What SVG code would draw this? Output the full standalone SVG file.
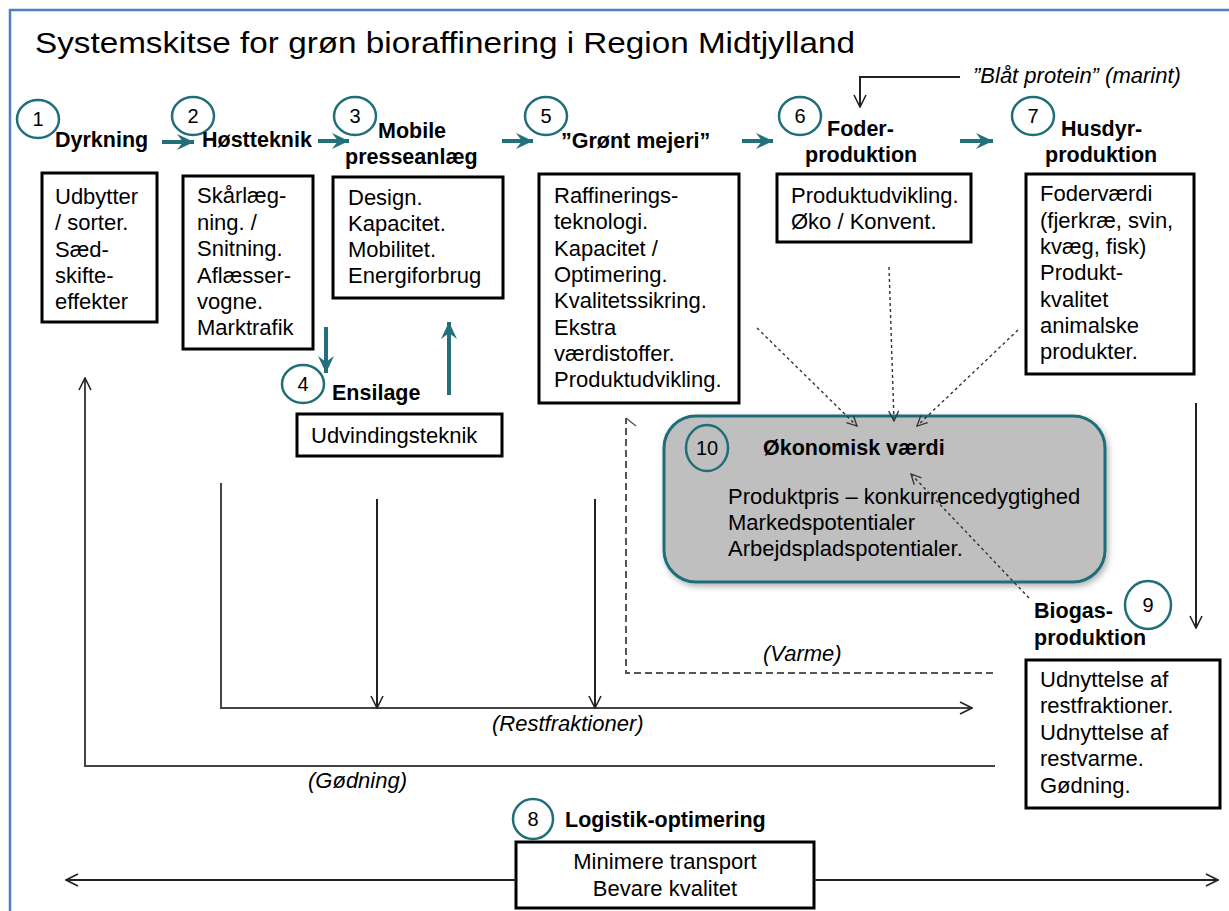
<svg xmlns="http://www.w3.org/2000/svg" width="1229" height="911" viewBox="0 0 1229 911">
<style>
text{font-family:"Liberation Sans",Arial,sans-serif;fill:#000}
.t{font-size:29px}
.h{font-size:21.5px;font-weight:bold}
.b{font-size:22px}
.i{font-size:22px;font-style:italic}
.n{font-size:20px;text-anchor:middle}
.box{fill:#fff;stroke:#000;stroke-width:3}
.circ{fill:#fff;stroke:#1f6e78;stroke-width:2.5}
.ta{stroke:#21707a;stroke-width:4;fill:none;marker-end:url(#tah)}
.bla{stroke:#222;stroke-width:2;fill:none;marker-end:url(#va)}
.gl{stroke:#444;stroke-width:2;fill:none}
.dash{stroke:#555;stroke-width:2;fill:none;stroke-dasharray:7 4}
.dot{stroke:#333;stroke-width:1.4;fill:none;stroke-dasharray:3 3;marker-end:url(#vs)}
</style>
<defs>
<marker id="tah" viewBox="0 0 18 18" refX="17" refY="9" markerWidth="18" markerHeight="18" orient="auto" markerUnits="userSpaceOnUse"><path d="M0,1 L17,9 L0,17 L6,9z" fill="#21707a"/></marker>
<marker id="va" viewBox="0 0 14 14" refX="13" refY="7" markerWidth="14" markerHeight="14" orient="auto" markerUnits="userSpaceOnUse"><path d="M1,1 L13,7 L1,13" fill="none" stroke="#222" stroke-width="1.6"/></marker>
<marker id="vs" viewBox="0 0 12 12" refX="11" refY="6" markerWidth="12" markerHeight="12" orient="auto" markerUnits="userSpaceOnUse"><path d="M1,1 L11,6 L1,11" fill="none" stroke="#333" stroke-width="1.3"/></marker>
<filter id="sh" x="-10%" y="-10%" width="130%" height="130%"><feDropShadow dx="2" dy="3" stdDeviation="3" flood-color="#000" flood-opacity="0.3"/></filter>
</defs>
<rect width="1229" height="911" fill="#fff"/>
<path d="M10,911 L10,10 L1235,10" fill="none" stroke="#4f81bd" stroke-width="2.5"/>
<text class="t" x="35" y="53" textLength="820" lengthAdjust="spacingAndGlyphs">Systemskitse for grøn bioraffinering i Region Midtjylland</text>

<g id="n1">
<ellipse class="circ" cx="38" cy="119" rx="21" ry="19"/><text class="n" x="38" y="126">1</text>
<text class="h" x="55" y="147">Dyrkning</text>
<rect class="box" x="42" y="173" width="115" height="149"/>
<text class="b"><tspan x="55" y="204">Udbytter</tspan><tspan x="55" y="230">/ sorter.</tspan><tspan x="55" y="257">Sæd-</tspan><tspan x="55" y="283">skifte-</tspan><tspan x="55" y="309">effekter</tspan></text>
</g>
<g id="n2">
<ellipse class="circ" cx="193" cy="116" rx="21" ry="19"/><text class="n" x="193" y="123">2</text>
<text class="h" x="202" y="147">Høstteknik</text>
<rect class="box" x="183" y="176" width="130" height="173"/>
<text class="b"><tspan x="197" y="203">Skårlæg-</tspan><tspan x="197" y="230">ning. /</tspan><tspan x="197" y="256">Snitning.</tspan><tspan x="197" y="283">Aflæsser-</tspan><tspan x="197" y="309">vogne.</tspan><tspan x="197" y="335">Marktrafik</tspan></text>
</g>
<g id="n3">
<ellipse class="circ" cx="355" cy="116" rx="21" ry="19"/><text class="n" x="355" y="123">3</text>
<text class="h" x="378" y="138">Mobile</text>
<text class="h" x="345" y="164">presseanlæg</text>
<rect class="box" x="333" y="177" width="170" height="121"/>
<text class="b"><tspan x="348" y="205">Design.</tspan><tspan x="348" y="231">Kapacitet.</tspan><tspan x="348" y="257">Mobilitet.</tspan><tspan x="348" y="283">Energiforbrug</tspan></text>
</g>
<g id="n4">
<ellipse class="circ" cx="303" cy="384" rx="21" ry="19"/><text class="n" x="303" y="391">4</text>
<text class="h" x="332" y="400">Ensilage</text>
<rect class="box" x="297" y="414" width="205" height="42"/>
<text class="b" x="311" y="443">Udvindingsteknik</text>
</g>
<g id="n5">
<ellipse class="circ" cx="546" cy="116" rx="21" ry="19"/><text class="n" x="546" y="123">5</text>
<text class="h" x="561" y="148">”Grønt mejeri”</text>
<rect class="box" x="539" y="174" width="200" height="229"/>
<text class="b"><tspan x="554" y="203">Raffinerings-</tspan><tspan x="554" y="229">teknologi.</tspan><tspan x="554" y="256">Kapacitet /</tspan><tspan x="554" y="282">Optimering.</tspan><tspan x="554" y="308">Kvalitetssikring.</tspan><tspan x="554" y="335">Ekstra</tspan><tspan x="554" y="361">værdistoffer.</tspan><tspan x="554" y="387">Produktudvikling.</tspan></text>
</g>
<g id="n6">
<ellipse class="circ" cx="800" cy="116" rx="21" ry="19"/><text class="n" x="800" y="123">6</text>
<text class="h" x="827" y="136">Foder-</text>
<text class="h" x="805" y="162">produktion</text>
<rect class="box" x="777" y="174" width="194" height="68"/>
<text class="b"><tspan x="791" y="203">Produktudvikling.</tspan><tspan x="791" y="229">Øko / Konvent.</tspan></text>
</g>
<g id="n7">
<ellipse class="circ" cx="1033" cy="116" rx="21" ry="19"/><text class="n" x="1033" y="123">7</text>
<text class="h" x="1061" y="136">Husdyr-</text>
<text class="h" x="1045" y="162">produktion</text>
<rect class="box" x="1026" y="174" width="168" height="200"/>
<text class="b"><tspan x="1040" y="201">Foderværdi</tspan><tspan x="1040" y="228">(fjerkræ, svin,</tspan><tspan x="1040" y="254">kvæg, fisk)</tspan><tspan x="1040" y="280">Produkt-</tspan><tspan x="1040" y="307">kvalitet</tspan><tspan x="1040" y="333">animalske</tspan><tspan x="1040" y="359">produkter.</tspan></text>
</g>
<g id="n10">
<rect x="664" y="416" width="441" height="166" rx="32" fill="#bfbfbf" stroke="#1f6e78" stroke-width="3" filter="url(#sh)"/>
<ellipse cx="707" cy="448" rx="21" ry="23" fill="none" stroke="#1f6e78" stroke-width="2.5"/><text class="n" x="707" y="455">10</text>
<text class="h" x="763" y="455">Økonomisk værdi</text>
<text class="b"><tspan x="728" y="504">Produktpris – konkurrencedygtighed</tspan><tspan x="728" y="530">Markedspotentialer</tspan><tspan x="728" y="556">Arbejdspladspotentialer.</tspan></text>
</g>
<g id="n9">
<ellipse class="circ" cx="1148" cy="605" rx="23" ry="24"/><text class="n" x="1148" y="612">9</text>
<text class="h" x="1034" y="618">Biogas-</text>
<text class="h" x="1034" y="645">produktion</text>
<rect class="box" x="1026" y="660" width="194" height="148"/>
<text class="b"><tspan x="1040" y="687">Udnyttelse af</tspan><tspan x="1040" y="713">restfraktioner.</tspan><tspan x="1040" y="740">Udnyttelse af</tspan><tspan x="1040" y="766">restvarme.</tspan><tspan x="1040" y="793">Gødning.</tspan></text>
</g>
<g id="n8">
<ellipse class="circ" cx="533" cy="819" rx="20" ry="20"/><text class="n" x="533" y="826">8</text>
<text class="h" x="565" y="827">Logistik-optimering</text>
<rect class="box" x="516" y="842" width="298" height="66"/>
<text class="b" text-anchor="middle"><tspan x="665" y="869">Minimere transport</tspan><tspan x="665" y="896">Bevare kvalitet</tspan></text>
</g>

<g id="connectors">
<path class="ta" d="M162,142 H194"/>
<path class="ta" d="M318,141 H349"/>
<path class="ta" d="M502,141 H533"/>
<path class="ta" d="M742,141 H773"/>
<path class="ta" d="M960,141 H993"/>
<path class="ta" d="M326,327 V373"/>
<path class="ta" d="M449,395 V322"/>
<path class="bla" d="M960,77 H860 V107"/>
<path class="gl" d="M995,766 H85 V378" marker-end="url(#va)"/>
<path class="gl" d="M221,483 V708 H972" marker-end="url(#va)"/>
<path class="bla" d="M377,499 V708"/>
<path class="bla" d="M595,499 V708"/>
<path class="dash" d="M993,673 H626 V418"/>
<path d="M626,418 L636,426" stroke="#555" stroke-width="1.5" fill="none"/>
<path class="bla" d="M1196,403 V628"/>
<path class="dot" d="M757,328 L857,426"/>
<path class="dot" d="M889,267 L894,421"/>
<path class="dot" d="M1018,330 L917,426"/>
<path class="dot" d="M1029,598 L911,474"/>
<path class="bla" d="M516,880 H66"/>
<path class="bla" d="M814,880 H1218"/>
</g>
<g id="labels">
<text class="i" x="973" y="83">”Blåt protein” (marint)</text>
<text class="i" x="763" y="661">(Varme)</text>
<text class="i" x="492" y="731">(Restfraktioner)</text>
<text class="i" x="308" y="788">(Gødning)</text>
</g>
</svg>
